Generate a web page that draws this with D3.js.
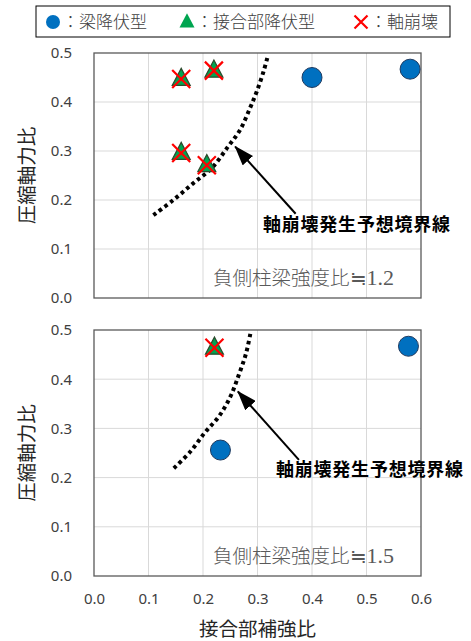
<!DOCTYPE html>
<html><head><meta charset="utf-8">
<script src="https://cdn.jsdelivr.net/npm/d3@7/dist/d3.min.js"></script>
<style>body{margin:0;background:#fff}svg{display:block}</style>
</head><body>
<svg id="c" width="471" height="641"></svg>
<script>
// ---- data ----
const xTicks = [0, 0.1, 0.2, 0.3, 0.4, 0.5, 0.6];
const yTicks = [0, 0.1, 0.2, 0.3, 0.4, 0.5];
const legendLabels = ["：梁降伏型", "：接合部降伏型", "：軸崩壊"];
// panel 1 (負側柱梁強度比≒1.2)
const p1Beam = [[0.40, 0.450], [0.58, 0.467]];
const p1Joint = [[0.16, 0.447], [0.22, 0.464], [0.16, 0.296], [0.207, 0.271]];
const p1Boundary = [[0.109, 0.169], [0.1455, 0.200], [0.182, 0.234], [0.216, 0.265], [0.246, 0.309], [0.268, 0.343], [0.286, 0.387], [0.2985, 0.421], [0.311, 0.462], [0.318, 0.490]];
const p1Arrow = [[0.370, 0.172], [0.259, 0.309]];
const p1Label = "負側柱梁強度比≒1.2";
// panel 2 (負側柱梁強度比≒1.5)
const p2Beam = [[0.232, 0.256], [0.577, 0.467]];
const p2Joint = [[0.221, 0.464]];
const p2Boundary = [[0.1465, 0.219], [0.177, 0.253], [0.2045, 0.293], [0.229, 0.324], [0.250, 0.364], [0.2656, 0.4085], [0.279, 0.4526], [0.287, 0.493]];
const p2Arrow = [[0.376, 0.236], [0.264, 0.375]];
const p2Label = "負側柱梁強度比≒1.5";
const boundaryText = "軸崩壊発生予想境界線";
const xTitle = "接合部補強比";
const yTitle = "圧縮軸力比";

const svg = d3.select("#c");
const L = 94, R = 421;
const x = d3.scaleLinear().domain([0, 0.6]).range([L, R]);
const JP = "'Noto Sans CJK JP', sans-serif";
const NUM = "'Noto Sans', 'Liberation Sans', sans-serif";

const defs = svg.append("defs");
defs.append("marker").attr("id", "ah").attr("viewBox", "0 0 20 14")
  .attr("refX", 19).attr("refY", 7)
  .attr("markerUnits", "userSpaceOnUse").attr("orient", "auto")
  .attr("markerWidth", 20).attr("markerHeight", 14)
  .append("path").attr("d", "M0,0 L20,7 L0,14 Z").attr("fill", "#000");

function triPath(cx, cy, s) {
  const h = s * 0.95;
  return `M${cx},${cy - h * 0.62} L${cx + s / 2},${cy + h * 0.38} L${cx - s / 2},${cy + h * 0.38} Z`;
}
function drawCross(g, cx, cy, s) {
  g.append("path").attr("d", `M${cx - s},${cy - s} L${cx + s},${cy + s} M${cx + s},${cy - s} L${cx - s},${cy + s}`)
    .attr("stroke", "#ff0000").attr("stroke-width", 2.2).attr("fill", "none");
}

function panel(top, bottom, beam, joint, boundary, arrow, label, textPos, showX) {
  const y = d3.scaleLinear().domain([0, 0.5]).range([bottom, top]);
  const g = svg.append("g");
  // grid
  g.selectAll(".gx").data(xTicks.slice(1, -1)).join("line")
    .attr("x1", d => x(d)).attr("x2", d => x(d)).attr("y1", top).attr("y2", bottom)
    .attr("stroke", "#d9d9d9").attr("stroke-width", 1);
  g.selectAll(".gy").data(yTicks.slice(1, -1)).join("line")
    .attr("y1", d => y(d)).attr("y2", d => y(d)).attr("x1", L).attr("x2", R)
    .attr("stroke", "#d9d9d9").attr("stroke-width", 1);
  // frame
  g.append("rect").attr("x", L).attr("y", top).attr("width", R - L).attr("height", bottom - top)
    .attr("fill", "none").attr("stroke", "#595959").attr("stroke-width", 1.3);
  // y axis
  const ya = d3.axisLeft(y).tickValues(yTicks).tickFormat(d3.format(".1f")).tickSize(0).tickPadding(22);
  const yg = g.append("g").attr("transform", `translate(${L},0)`).call(ya);
  yg.select(".domain").remove();
  yg.selectAll("text").attr("font-family", NUM).attr("font-size", 15).attr("fill", "#404040");
  if (showX) {
    const xa = d3.axisBottom(x).tickValues(xTicks).tickFormat(d3.format(".1f")).tickSize(0).tickPadding(17);
    const xg = g.append("g").attr("transform", `translate(0,${bottom})`).call(xa);
    xg.select(".domain").remove();
    xg.selectAll("text").attr("font-family", NUM).attr("font-size", 15).attr("fill", "#404040");
  }
  // y title
  g.append("text").attr("transform", `translate(34,${(top + bottom) / 2}) rotate(-90)`)
    .attr("text-anchor", "middle").attr("font-family", JP).attr("font-size", 19.5).attr("fill", "#262626")
    .text(yTitle);
  // note
  const nt = g.append("text").attr("x", 213).attr("y", bottom - 13)
    .attr("font-family", JP).attr("font-size", 19.5).attr("fill", "#595959").attr("font-weight", 300);
  const parts = label.split("≒");
  nt.append("tspan").text(parts[0] + "≒");
  nt.append("tspan").text(parts[1]).attr("font-family", "'Liberation Serif', serif").attr("font-size", 22);
  // boundary curve
  g.append("path").datum(boundary)
    .attr("d", d3.line().x(d => x(d[0])).y(d => y(d[1])).curve(d3.curveCatmullRom.alpha(0.5)))
    .attr("fill", "none").attr("stroke", "#000").attr("stroke-width", 4)
    .attr("stroke-dasharray", "3.6,3.4");
  // arrow
  g.append("line").attr("x1", x(arrow[0][0])).attr("y1", y(arrow[0][1]))
    .attr("x2", x(arrow[1][0])).attr("y2", y(arrow[1][1]))
    .attr("stroke", "#000").attr("stroke-width", 2).attr("marker-end", "url(#ah)");
  // arrow text
  g.append("text").attr("x", textPos[0]).attr("y", textPos[1])
    .attr("font-family", JP).attr("font-size", 18).attr("font-weight", 700).attr("fill", "#000")
    .attr("textLength", 187).attr("lengthAdjust", "spacing")
    .text(boundaryText);
  // beam yield circles
  g.selectAll(".b").data(beam).join("circle")
    .attr("cx", d => x(d[0])).attr("cy", d => y(d[1])).attr("r", 10)
    .attr("fill", "#0070c0").attr("stroke", "#1f3a5f").attr("stroke-width", 1);
  // joint yield triangles + axial collapse crosses
  joint.forEach(d => {
    g.append("path").attr("d", triPath(x(d[0]), y(d[1]), 18))
      .attr("fill", "#00a550").attr("stroke", "#2d4a2d").attr("stroke-width", 1.2);
    drawCross(g, x(d[0]), y(d[1]), 9);
  });
}

panel(53, 298, p1Beam, p1Joint, p1Boundary, p1Arrow, p1Label, [263, 231], false);
panel(330, 576, p2Beam, p2Joint, p2Boundary, p2Arrow, p2Label, [276, 476], true);

// x title
svg.append("text").attr("x", (L + R) / 2).attr("y", 636).attr("text-anchor", "middle")
  .attr("font-family", JP).attr("font-size", 19.5).attr("fill", "#262626").text(xTitle);

// legend
const lg = svg.append("g");
lg.append("rect").attr("x", 36).attr("y", 6).attr("width", 414).attr("height", 31)
  .attr("fill", "#fff").attr("stroke", "#000").attr("stroke-width", 1);
const ly = 22;
lg.append("circle").attr("cx", 53).attr("cy", ly).attr("r", 7).attr("fill", "#0070c0");
lg.append("path").attr("d", triPath(187, ly, 15)).attr("fill", "#00a550");
drawCross(lg, 361, ly, 6.5);
const lx = [62, 196, 370];
legendLabels.forEach((t, i) => {
  lg.append("text").attr("x", lx[i]).attr("y", ly + 6).attr("font-family", JP)
    .attr("font-size", 17).attr("fill", "#404040").attr("font-weight", 300).text(t);
});
</script>
</body></html>
